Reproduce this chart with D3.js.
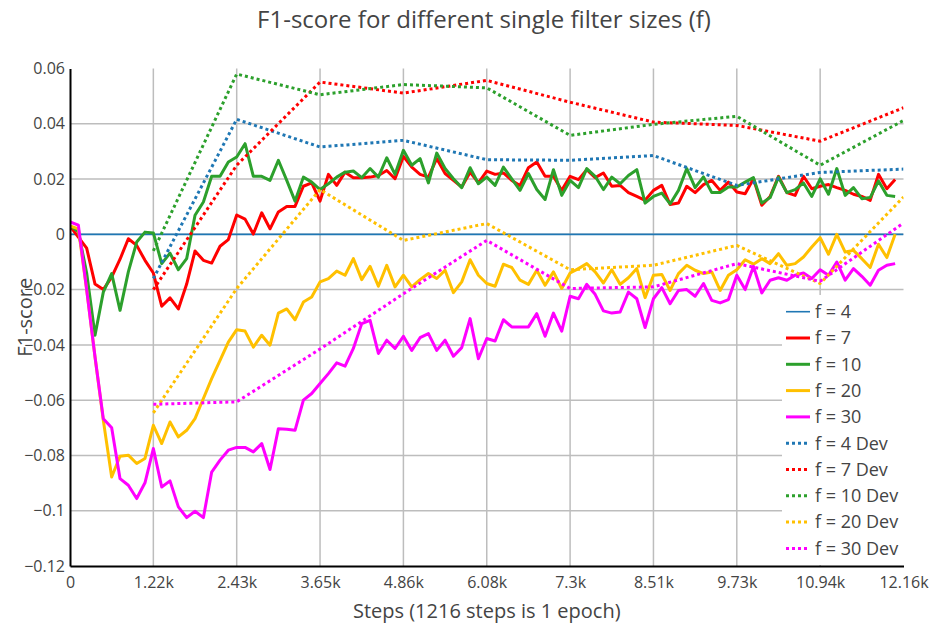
<!DOCTYPE html>
<html>
<head>
<meta charset="utf-8">
<script src="https://cdn.jsdelivr.net/npm/d3@7"></script>
<style>
  body { margin: 0; background: #fff; }
  svg text { font-family: "Open Sans", "Noto Sans", sans-serif; fill: #444; }
</style>
</head>
<body>
<svg id="chart" width="935" height="631"></svg>
<script>
  // training steps (logged every 1/10 epoch) and dev steps (every epoch)
  const trainSteps = [0, 122, 243, 365, 486, 608, 730, 851, 973, 1094, 1216, 1338, 1459, 1581, 1702, 1824, 1946, 2067, 2189, 2310,
    2432, 2554, 2675, 2797, 2918, 3040, 3162, 3283, 3405, 3526, 3648, 3770, 3891, 4013, 4134, 4256, 4378, 4499, 4621, 4742,
    4864, 4986, 5107, 5229, 5350, 5472, 5594, 5715, 5837, 5958, 6080, 6202, 6323, 6445, 6566, 6688, 6810, 6931, 7053, 7174,
    7296, 7418, 7539, 7661, 7782, 7904, 8026, 8147, 8269, 8390, 8512, 8634, 8755, 8877, 8998, 9120, 9242, 9363, 9485, 9606,
    9728, 9850, 9971, 10093, 10214, 10336, 10458, 10579, 10701, 10822, 10944, 11066, 11187, 11309, 11430, 11552, 11674, 11795, 11917, 12038]
  const devSteps = [1216, 2432, 3648, 4864, 6080, 7296, 8512, 9728, 10944, 12160]
  const f4Steps = [0, 12160]

  const f4 = [0, 0]
  const f7 = [0.003, -0.001, -0.005, -0.018, -0.020, -0.0155, -0.009, -0.0016, -0.004, -0.0094,
    -0.014, -0.026, -0.023, -0.027, -0.018, -0.006, -0.0094, -0.0104, -0.0043, -0.0019,
    0.007, 0.0055, 0.0001, 0.0078, 0.002, 0.0081, 0.0101, 0.0101, 0.0174, 0.0186,
    0.012, 0.0217, 0.0177, 0.0225, 0.0205, 0.0205, 0.0207, 0.0213, 0.0231, 0.0201,
    0.0282, 0.0243, 0.0217, 0.0207, 0.0274, 0.022, 0.0195, 0.0171, 0.0225, 0.0186,
    0.0229, 0.0217, 0.0222, 0.0195, 0.0177, 0.0241, 0.0262, 0.021, 0.021, 0.0159,
    0.021, 0.0198, 0.0234, 0.0205, 0.0222, 0.0174, 0.0177, 0.0151, 0.0137, 0.0123,
    0.0159, 0.0177, 0.0108, 0.0113, 0.0174, 0.0151, 0.018, 0.0195, 0.0159, 0.0189,
    0.0153, 0.0147, 0.0201, 0.0105, 0.0137, 0.021, 0.0151, 0.0141, 0.021, 0.0165,
    0.0174, 0.018, 0.0169, 0.0159, 0.0145, 0.0137, 0.0123, 0.0217, 0.0165, 0.0198]
  const f10 = [0.003, 0.001, -0.014, -0.0365, -0.0209, -0.0142, -0.0275, -0.0136, -0.0028, 0.0008,
    0.0005, -0.0106, -0.0068, -0.0128, -0.0088, 0.0069, 0.0117, 0.021, 0.021, 0.0262,
    0.028, 0.0328, 0.021, 0.021, 0.0195, 0.0268, 0.0195, 0.012, 0.0207, 0.0189,
    0.0162, 0.0183, 0.0207, 0.0225, 0.0229, 0.0205, 0.0238, 0.0207, 0.0277, 0.0217,
    0.0304, 0.025, 0.0274, 0.0186, 0.0294, 0.0238, 0.0201, 0.0169, 0.0241, 0.0183,
    0.0207, 0.0177, 0.0243, 0.0201, 0.0159, 0.022, 0.0162, 0.0126, 0.0234, 0.0141,
    0.0195, 0.0169, 0.0238, 0.021, 0.0162, 0.0207, 0.0183, 0.0213, 0.0234, 0.0113,
    0.0137, 0.0149, 0.011, 0.0159, 0.0238, 0.0169, 0.0208, 0.0151, 0.0151, 0.0171,
    0.0171, 0.0189, 0.0205, 0.0113, 0.0133, 0.0207, 0.0151, 0.0162, 0.0186, 0.0137,
    0.0201, 0.0145, 0.0238, 0.0141, 0.0169, 0.0129, 0.0133, 0.0193, 0.0141, 0.0137]
  const f20 = [0.003, 0.002, -0.02, -0.0444, -0.0673, -0.0878, -0.0803, -0.0799, -0.0829, -0.0811,
    -0.0691, -0.0757, -0.0679, -0.0733, -0.0709, -0.0667, -0.0594, -0.0522, -0.0456, -0.039,
    -0.0345, -0.035, -0.0408, -0.0365, -0.0401, -0.0285, -0.027, -0.0309, -0.0245, -0.0227,
    -0.0172, -0.016, -0.0133, -0.0148, -0.0088, -0.0164, -0.0116, -0.0188, -0.0112, -0.019,
    -0.0148, -0.019, -0.0164, -0.0142, -0.016, -0.013, -0.0211, -0.0172, -0.0092, -0.0148,
    -0.0178, -0.0188, -0.0108, -0.012, -0.0166, -0.0181, -0.013, -0.0184, -0.0136, -0.0196,
    -0.014, -0.0124, -0.0106, -0.0136, -0.0176, -0.0128, -0.0181, -0.0157, -0.0124, -0.0229,
    -0.0148, -0.0145, -0.0203, -0.0142, -0.0112, -0.013, -0.0142, -0.0136, -0.0203, -0.0148,
    -0.0128, -0.0092, -0.0108, -0.0088, -0.0106, -0.007, -0.0112, -0.0106, -0.0082, -0.0046,
    -0.0012, -0.0072, 0, -0.0064, -0.0058, -0.0088, -0.012, -0.0036, -0.0084, 0]
  const f30 = [0.0045, 0.0033, -0.02, -0.0444, -0.0667, -0.07, -0.0884, -0.0908, -0.0956, -0.0899,
    -0.0775, -0.0914, -0.0892, -0.0986, -0.1025, -0.1002, -0.1025, -0.086, -0.0817, -0.0781,
    -0.0771, -0.0771, -0.0787, -0.0757, -0.0851, -0.0703, -0.0705, -0.0709, -0.06, -0.0576,
    -0.054, -0.0504, -0.0465, -0.0477, -0.0413, -0.0323, -0.0311, -0.0431, -0.0383, -0.0413,
    -0.0369, -0.042, -0.0374, -0.0359, -0.042, -0.0383, -0.0441, -0.041, -0.0305, -0.045,
    -0.0377, -0.0386, -0.0309, -0.0335, -0.0335, -0.0335, -0.0287, -0.0369, -0.0285, -0.035,
    -0.0224, -0.0233, -0.0181, -0.0217, -0.0277, -0.0285, -0.0281, -0.0209, -0.0233, -0.0337,
    -0.0233, -0.0193, -0.0251, -0.0203, -0.02, -0.0224, -0.0178, -0.0239, -0.0248, -0.0236,
    -0.0148, -0.02, -0.0116, -0.0212, -0.0166, -0.0157, -0.0166, -0.0148, -0.014, -0.016,
    -0.0128, -0.0148, -0.01, -0.0166, -0.0124, -0.0152, -0.0184, -0.013, -0.0112, -0.0106]

  const f4Dev = [-0.016, 0.0416, 0.0316, 0.034, 0.027, 0.0268, 0.0285, 0.0177, 0.0224, 0.0236]
  const f7Dev = [-0.020, 0.025, 0.0551, 0.0511, 0.0557, 0.0478, 0.0406, 0.0394, 0.0337, 0.0458]
  const f10Dev = [-0.006, 0.058, 0.0505, 0.0542, 0.053, 0.0358, 0.0398, 0.0427, 0.025, 0.0412]
  const f20Dev = [-0.0646, -0.0196, 0.0162, -0.0022, 0.0039, -0.0128, -0.0112, -0.004, -0.0178, 0.0135]
  const f30Dev = [-0.0615, -0.0606, -0.0415, -0.0215, -0.0022, -0.0196, -0.019, -0.0106, -0.017, 0.0041]

  const xTickValues = [0, 1216, 2432, 3648, 4864, 6080, 7296, 8512, 9728, 10944, 12160]
  const xTickLabels = ['0', '1.22k', '2.43k', '3.65k', '4.86k', '6.08k', '7.3k', '8.51k', '9.73k', '10.94k', '12.16k']
  const yTickValues = [0.06, 0.04, 0.02, 0, -0.02, -0.04, -0.06, -0.08, -0.1, -0.12]
  const yTickLabels = ['0.06', '0.04', '0.02', '0', '\u22120.02', '\u22120.04', '\u22120.06', '\u22120.08', '\u22120.1', '\u22120.12']

  const series = [
    { name: 'f = 4', steps: f4Steps, values: f4, color: '#1f77b4', width: 1.6, dotted: false },
    { name: 'f = 7', steps: trainSteps, values: f7, color: '#ff0000', width: 3, dotted: false },
    { name: 'f = 10', steps: trainSteps, values: f10, color: '#2ca02c', width: 3, dotted: false },
    { name: 'f = 20', steps: trainSteps, values: f20, color: '#ffc000', width: 3, dotted: false },
    { name: 'f = 30', steps: trainSteps, values: f30, color: '#ff00ff', width: 3, dotted: false },
    { name: 'f = 4 Dev', steps: devSteps, values: f4Dev, color: '#1f77b4', width: 3, dotted: true },
    { name: 'f = 7 Dev', steps: devSteps, values: f7Dev, color: '#ff0000', width: 3, dotted: true },
    { name: 'f = 10 Dev', steps: devSteps, values: f10Dev, color: '#2ca02c', width: 3, dotted: true },
    { name: 'f = 20 Dev', steps: devSteps, values: f20Dev, color: '#ffc000', width: 3, dotted: true },
    { name: 'f = 30 Dev', steps: devSteps, values: f30Dev, color: '#ff00ff', width: 3, dotted: true }
  ]

  const width = 935
  const height = 631
  const margin = { top: 68.5, right: 31.5, bottom: 65, left: 70 }
  const plotW = width - margin.left - margin.right
  const plotH = height - margin.top - margin.bottom

  const svg = d3.select('#chart')

  const x = d3.scaleLinear().domain([0, 12160]).range([0, plotW])
  const y = d3.scaleLinear().domain([-0.12, 0.06]).range([plotH, 0])

  const plot = svg.append('g').attr('transform', `translate(${margin.left},${margin.top})`)

  svg.append('defs').append('clipPath').attr('id', 'clip')
    .append('rect').attr('x', 0).attr('y', 0).attr('width', plotW).attr('height', plotH)

  // grid lines (none at the range edges)
  plot.append('g').attr('class', 'grid')
    .selectAll('line.gx').data(xTickValues.filter(v => v > 0 && v < 12160)).enter()
    .append('line')
      .attr('x1', d => x(d)).attr('x2', d => x(d))
      .attr('y1', 0).attr('y2', plotH)
      .attr('stroke', '#bdbdbd').attr('stroke-width', 1.5)
  plot.append('g').attr('class', 'grid')
    .selectAll('line.gy').data(yTickValues.filter(v => v > -0.12 && v < 0.06)).enter()
    .append('line')
      .attr('x1', 0).attr('x2', plotW)
      .attr('y1', d => y(d)).attr('y2', d => y(d))
      .attr('stroke', '#bdbdbd').attr('stroke-width', 1.5)

  const line = d3.line().x(d => x(d[0])).y(d => y(d[1]))

  const traces = plot.append('g').attr('clip-path', 'url(#clip)')
  series.forEach(s => {
    traces.append('path')
      .datum(s.steps.map((st, i) => [st, s.values[i]]))
      .attr('d', line)
      .attr('fill', 'none')
      .attr('stroke', s.color)
      .attr('stroke-width', s.width)
      .attr('stroke-linejoin', 'round')
      .attr('stroke-dasharray', s.dotted ? '3,3' : null)
  })

  // axes
  const xAxis = plot.append('g').attr('transform', `translate(0,${plotH})`)
    .call(d3.axisBottom(x).tickValues(xTickValues).tickFormat((d, i) => xTickLabels[i]).tickSize(0).tickPadding(11))
  const yAxis = plot.append('g')
    .call(d3.axisLeft(y).tickValues(yTickValues).tickFormat((d, i) => yTickLabels[i]).tickSize(0).tickPadding(5))
  ;[xAxis, yAxis].forEach(a => {
    a.select('.domain').attr('stroke', '#000').attr('stroke-width', 2)
    a.selectAll('text').attr('font-size', 16).attr('fill', '#444')
      .style('font-family', '"Open Sans", "Noto Sans", sans-serif')
  })

  // legend
  const legend = svg.append('g')
  legend.append('rect')
    .attr('x', 782).attr('y', 295).attr('width', 125).attr('height', 270)
    .attr('fill', '#fff')
  series.forEach((s, i) => {
    const ly = 311.7 + i * 26.3
    legend.append('line')
      .attr('x1', 786).attr('x2', 810).attr('y1', ly).attr('y2', ly)
      .attr('stroke', s.color).attr('stroke-width', s.width)
      .attr('stroke-dasharray', s.dotted ? '3,3' : null)
    legend.append('text')
      .attr('x', 815).attr('y', ly).attr('dy', '0.35em')
      .attr('font-size', 18)
      .text(s.name)
  })

  // titles
  svg.append('text')
    .attr('x', 484).attr('y', 28)
    .attr('text-anchor', 'middle').attr('font-size', 24)
    .text('F1-score for different single filter sizes (f)')
  svg.append('text')
    .attr('x', margin.left + plotW / 2).attr('y', 618)
    .attr('text-anchor', 'middle').attr('font-size', 20)
    .text('Steps (1216 steps is 1 epoch)')
  svg.append('text')
    .attr('transform', `translate(32,${margin.top + plotH / 2}) rotate(-90)`)
    .attr('text-anchor', 'middle').attr('font-size', 20)
    .text('F1-score')
</script>
</body>
</html>
